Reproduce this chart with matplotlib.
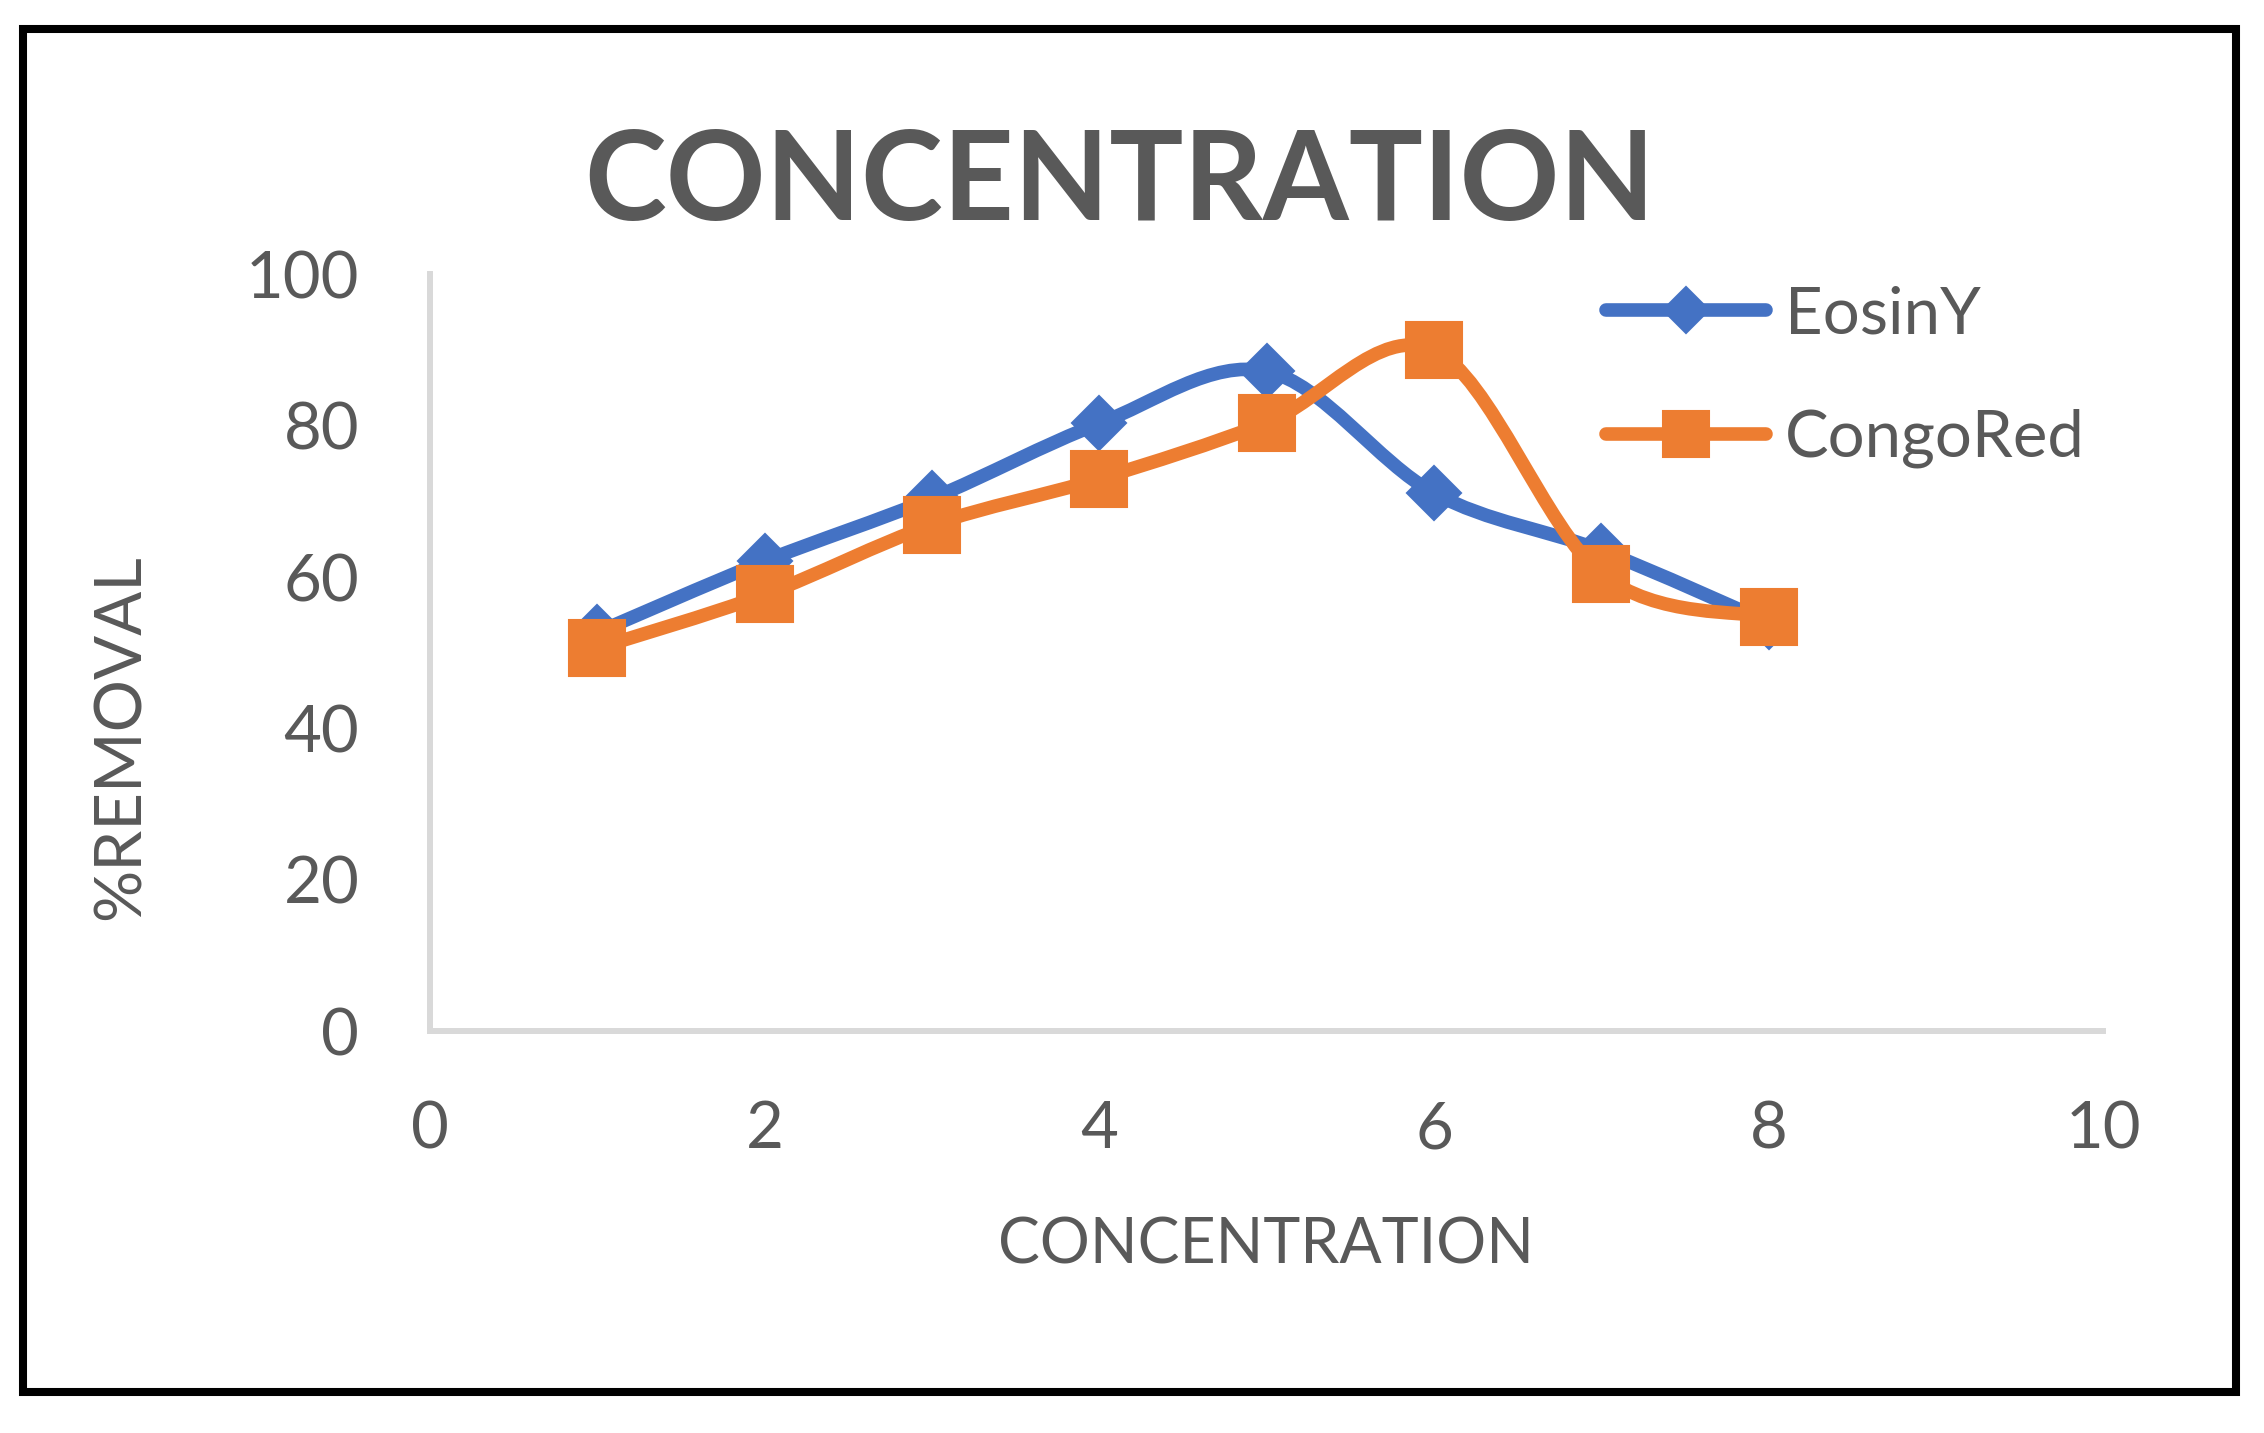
import numpy as np
import matplotlib
matplotlib.use("Agg")
import matplotlib.pyplot as plt
from matplotlib.path import Path
from matplotlib.patches import PathPatch, Rectangle
from matplotlib.lines import Line2D

plt.rcParams['font.family'] = ['Lato', 'DejaVu Sans']

# data
concentration = [1, 2, 3, 4, 5, 6, 7, 8]
eosin_y = [52.7, 62.1, 70.4, 80.3, 87.2, 71.1, 63.5, 54.0]
congo_red = [50.6, 57.7, 66.9, 73.0, 80.4, 90.0, 60.4, 54.7]
series_names = ["EosinY", "CongoRed"]
x_ticks = [0, 2, 4, 6, 8, 10]
y_ticks = [0, 20, 40, 60, 80, 100]

BLUE = "#4472C4"
ORANGE = "#ED7D31"
TEXT = "#595959"
AXIS = "#D9D9D9"


def smooth_path(xs, ys):
    # excel style smoothed line: one cubic bezier per segment
    pts = np.column_stack([xs, ys]).astype(float)
    n = len(pts)
    verts = [pts[0]]
    codes = [Path.MOVETO]
    for i in range(n - 1):
        p0 = pts[i - 1] if i > 0 else pts[i]
        p1 = pts[i]
        p2 = pts[i + 1]
        p3 = pts[i + 2] if i + 2 < n else pts[i + 1]
        verts += [p1 + (p2 - p0) / 6, p2 - (p3 - p1) / 6, p2]
        codes += [Path.CURVE4] * 3
    return Path(verts, codes)


fig = plt.figure(figsize=(22.64, 14.33), dpi=100)
ax = fig.add_axes([0.190, 0.2805, 0.739, 0.528])

lw = 9.8
styles = [
    (eosin_y, BLUE, "D", 28),
    (congo_red, ORANGE, "s", 40),
]
handles = []
z = 3
for values, color, marker, ms in styles:
    patch = PathPatch(smooth_path(concentration, values), fill=False,
                      edgecolor=color, lw=lw, capstyle='round',
                      joinstyle='round', transform=ax.transData, zorder=z)
    ax.add_patch(patch)
    ax.plot(concentration, values, linestyle='none', marker=marker, ms=ms,
            color=color, mec=color, mew=1.5, zorder=z + 1, clip_on=False)
    handles.append(Line2D([], [], color=color, lw=lw, marker=marker, ms=ms,
                          mec=color, mew=1.5, solid_capstyle='round'))
    z += 2

ax.set_xlim(0, 10)
ax.set_ylim(0, 100)
ax.set_xticks(x_ticks)
ax.set_yticks(y_ticks)
ax.tick_params(axis='both', length=0, labelsize=47, labelcolor=TEXT)
ax.tick_params(axis='x', pad=50)
ax.tick_params(axis='y', pad=51)
for side in ['top', 'right']:
    ax.spines[side].set_visible(False)
for side in ['left', 'bottom']:
    ax.spines[side].set_color(AXIS)
    ax.spines[side].set_linewidth(4.3)

fig.text(0.4947, 0.8465, "CONCENTRATION", ha='center', va='baseline',
         fontsize=89, fontweight='bold', color=TEXT)
fig.text(0.559, 0.118, "CONCENTRATION", ha='center', va='baseline',
         fontsize=45, color=TEXT)
fig.text(0.0618, 0.4857, "%REMOVAL", rotation=90, rotation_mode='anchor',
         ha='center', va='baseline', fontsize=47, color=TEXT)

fig.legend(handles, series_names, loc='upper left',
           bbox_to_anchor=(0.7094, 0.8010), frameon=False, borderpad=0,
           borderaxespad=0, handlelength=2.45, handletextpad=0.29,
           labelspacing=0.99, markerscale=0.84, fontsize=47, labelcolor=TEXT)

# black frame around the whole chart
fig.patches.append(Rectangle((23 / 2264, 1 - 1392 / 1433),
                             (2236 - 23) / 2264, (1392 - 29) / 1433,
                             transform=fig.transFigure, fill=False,
                             edgecolor='black', lw=5.8))

fig.savefig("out.png", dpi=100, facecolor='white')
